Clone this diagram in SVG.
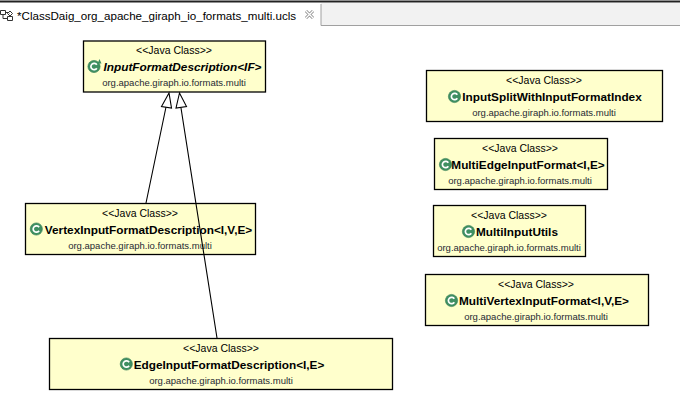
<svg xmlns="http://www.w3.org/2000/svg" width="680" height="402" viewBox="0 0 680 402">
<style>
.box{fill:#ffffcc;stroke:#000;stroke-width:1.3}
.t{font-family:"Liberation Sans",Arial,sans-serif;text-anchor:middle;fill:#000}
.s{font-size:10.5px}
.n{font-size:11.8px;font-weight:bold}
.i{font-style:italic}
.p{font-size:9.5px;fill:#1f2a33}
.c{fill:#3f8f62;stroke:#2f7a50;stroke-width:.6}
.cl{fill:none;stroke:#fff;stroke-width:1.7}
.e{fill:none;stroke:#000;stroke-width:1.1}
.h{fill:#fff;stroke:#000;stroke-width:1.1}
</style>
<defs>
<g id="ci"><circle class="c" cx="0" cy="0" r="6.100"/><path class="cl" d="M2.800-1.700A3.200 3.200 0 1 0 2.800 1.700"/></g>
</defs>
<rect width="680" height="402" fill="#fff"/>
<g id="tabbar">
<rect x="321" y="3" width="359" height="22" fill="#f2f2f2"/>
<path d="M0 1.500H680" stroke="#222" stroke-width="2" fill="none"/>
<path d="M321 4V25.500H680" stroke="#a0a0a0" fill="none"/>
<path d="M0.500 10.500h5v4h-5zM7.500 16.500h5v4h-5zM3 14.500v4h4.500M5.500 12.500h3l1 1M10 11l2.500 2.500-2.500 2.500-2.500-2.500z" fill="none" stroke="#333" stroke-width="1"/>
<text x="17" y="20" font-family="'Liberation Sans',Arial,sans-serif" font-size="11.600px" fill="#000">*ClassDaig_org_apache_giraph_io_formats_multi.ucls</text>
<path d="M306 11l7 7m0-7l-7 7" stroke="#8a8a8a" stroke-width="3" fill="none"/>
<path d="M306 11l7 7m0-7l-7 7" stroke="#fff" stroke-width="1.400" fill="none"/>
</g>
<g id="InputFormatDescription">
<rect class="box" x="83.500" y="41" width="182" height="51"/>
<text class="t s" x="174" y="54">&lt;&lt;Java Class&gt;&gt;</text>
<use href="#ci" x="94" y="66.500"/>
<path d="M99.500 59l2 4.500h-4z" fill="#3f8f62"/>
<text class="t n i" x="182.500" y="71">InputFormatDescription&lt;IF&gt;</text>
<text class="t p" x="174" y="86">org.apache.giraph.io.formats.multi</text>
</g>
<g id="VertexInputFormatDescription">
<rect class="box" x="25.500" y="203.500" width="230" height="51"/>
<text class="t s" x="140" y="217">&lt;&lt;Java Class&gt;&gt;</text>
<use href="#ci" x="36.300" y="229"/>
<text class="t n" x="148.500" y="234">VertexInputFormatDescription&lt;I,V,E&gt;</text>
<text class="t p" x="140" y="249">org.apache.giraph.io.formats.multi</text>
</g>
<g id="EdgeInputFormatDescription">
<rect class="box" x="49.500" y="338.500" width="343" height="51"/>
<text class="t s" x="221" y="352">&lt;&lt;Java Class&gt;&gt;</text>
<use href="#ci" x="126.300" y="364"/>
<text class="t n" x="229" y="369">EdgeInputFormatDescription&lt;I,E&gt;</text>
<text class="t p" x="221" y="384">org.apache.giraph.io.formats.multi</text>
</g>
<g id="InputSplitWithInputFormatIndex">
<rect class="box" x="426.500" y="70.500" width="236" height="51"/>
<text class="t s" x="544" y="84">&lt;&lt;Java Class&gt;&gt;</text>
<use href="#ci" x="454.500" y="96.500"/>
<text class="t n" x="552" y="101">InputSplitWithInputFormatIndex</text>
<text class="t p" x="544" y="116">org.apache.giraph.io.formats.multi</text>
</g>
<g id="MultiEdgeInputFormat">
<rect class="box" x="434.500" y="138.500" width="173" height="51"/>
<text class="t s" x="520" y="152">&lt;&lt;Java Class&gt;&gt;</text>
<use href="#ci" x="445.500" y="164.500"/>
<text class="t n" x="528" y="169">MultiEdgeInputFormat&lt;I,E&gt;</text>
<text class="t p" x="520" y="184">org.apache.giraph.io.formats.multi</text>
</g>
<g id="MultiInputUtils">
<rect class="box" x="433.500" y="205.500" width="152" height="51"/>
<text class="t s" x="509" y="219">&lt;&lt;Java Class&gt;&gt;</text>
<use href="#ci" x="468.500" y="231.500"/>
<text class="t n" x="517" y="236">MultiInputUtils</text>
<text class="t p" x="509" y="251">org.apache.giraph.io.formats.multi</text>
</g>
<g id="MultiVertexInputFormat">
<rect class="box" x="425.500" y="274.500" width="223" height="51"/>
<text class="t s" x="536" y="288">&lt;&lt;Java Class&gt;&gt;</text>
<use href="#ci" x="451.500" y="300.500"/>
<text class="t n" x="544" y="305">MultiVertexInputFormat&lt;I,V,E&gt;</text>
<text class="t p" x="536" y="320">org.apache.giraph.io.formats.multi</text>
</g>
<g id="connectors">
<path class="e" d="M146 203L166 107M217 338L181 108"/>
<path class="h" d="M169 93L161.500 106.500L171.500 108Z"/>
<path class="h" d="M179.500 93L176 108L186.500 106.500Z"/>
</g>
</svg>
